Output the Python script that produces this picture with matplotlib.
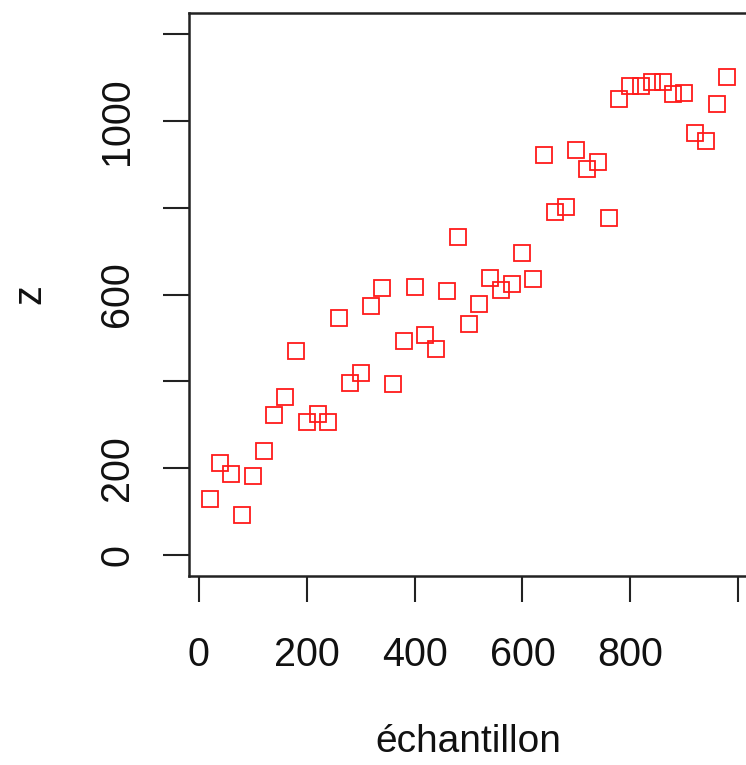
import matplotlib
matplotlib.use("Agg")
import matplotlib.pyplot as plt
import numpy as np

plt.rcParams['font.family'] = ['Liberation Sans', 'DejaVu Sans']

# sample index (échantillon) and measured z
echantillon = [20, 40, 60, 80, 100, 120, 140, 160, 180, 200,
               220, 240, 260, 280, 300, 320, 340, 360, 380, 400,
               420, 440, 460, 480, 500, 520, 540, 560, 580, 600,
               620, 640, 660, 680, 700, 720, 740, 760, 780, 800,
               820, 840, 860, 880, 900, 920, 940, 960, 980]
z = [129, 212, 187, 93, 183, 239, 323, 364, 471, 307,
     325, 307, 546, 396, 419, 574, 616, 393, 494, 618,
     506, 475, 608, 732, 531, 577, 637, 610, 624, 696,
     635, 920, 791, 802, 933, 890, 906, 777, 1050, 1079,
     1079, 1089, 1090, 1061, 1063, 971, 953, 1038, 1100]

x_ticks = [0, 200, 400, 600, 800, 1000]
x_ticklabels = ['0', '200', '400', '600', '800', '']
y_ticks = [0, 200, 400, 600, 800, 1000, 1200]
y_ticklabels = ['0', '200', '', '600', '', '1000', '']

W, H = 746, 765
fig = plt.figure(figsize=(W / 100, H / 100), dpi=100)
# box runs a little past the right edge, like the cropped original
ax = fig.add_axes([189 / W, (H - 576) / H, (748 - 189) / W, (576 - 13) / H])

ax.plot(echantillon, z, linestyle='none', marker='s', markersize=11.3,
        markerfacecolor='none', markeredgecolor='#ff1a1a', markeredgewidth=1.3)

ax.set_xlim(-18.4, 1018.4)
ax.set_ylim(-48, 1248)

ax.set_xticks(x_ticks)
ax.set_xticklabels(x_ticklabels)
ax.set_yticks(y_ticks)
ax.set_yticklabels(y_ticklabels, rotation=90, va='center')

for s in ax.spines.values():
    s.set_linewidth(1.8)
    s.set_color('#222222')
ax.tick_params(axis='both', length=19, width=1.5, color='#222222',
               labelsize=28.5, labelcolor='#111111')
ax.tick_params(axis='x', pad=24)
ax.tick_params(axis='y', pad=19)

ax.set_xlabel('échantillon', fontsize=28, labelpad=36, color='#111111')
ax.set_ylabel('z', fontsize=28.5, labelpad=36, color='#111111')

fig.savefig('out.png', dpi=100)
